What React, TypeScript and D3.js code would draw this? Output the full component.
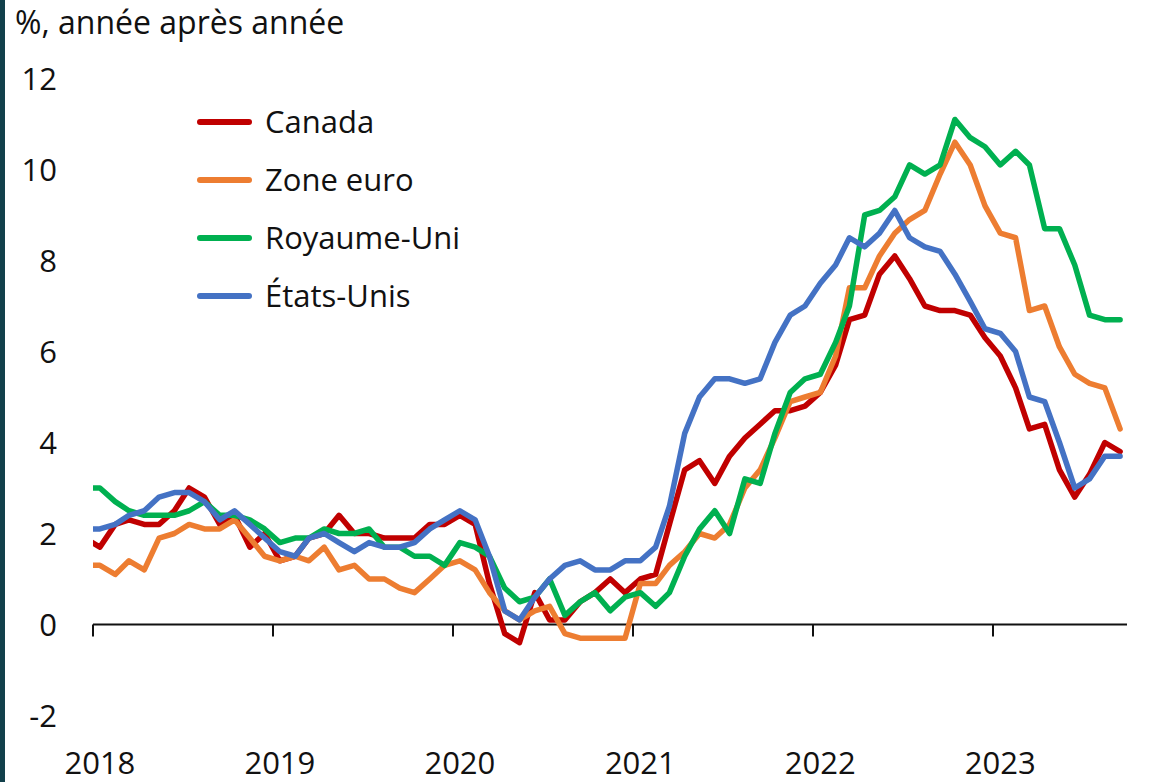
import React from "react";
import * as d3 from "d3";

// Monthly CPI, % year over year, Dec 2017 – Sep 2023
const START_YEAR = 2017;
const START_MONTH = 11; // December (0-based)

const canada = [1.9,
  1.7, 2.2, 2.3, 2.2, 2.2, 2.5, 3.0, 2.8, 2.2, 2.4, 1.7, 2.0,
  1.4, 1.5, 1.9, 2.0, 2.4, 2.0, 2.0, 1.9, 1.9, 1.9, 2.2, 2.2,
  2.4, 2.2, 0.9, -0.2, -0.4, 0.7, 0.1, 0.1, 0.5, 0.7, 1.0, 0.7,
  1.0, 1.1, 2.2, 3.4, 3.6, 3.1, 3.7, 4.1, 4.4, 4.7, 4.7, 4.8,
  5.1, 5.7, 6.7, 6.8, 7.7, 8.1, 7.6, 7.0, 6.9, 6.9, 6.8, 6.3,
  5.9, 5.2, 4.3, 4.4, 3.4, 2.8, 3.3, 4.0, 3.8];

const zoneEuro = [1.3,
  1.3, 1.1, 1.4, 1.2, 1.9, 2.0, 2.2, 2.1, 2.1, 2.3, 1.9, 1.5,
  1.4, 1.5, 1.4, 1.7, 1.2, 1.3, 1.0, 1.0, 0.8, 0.7, 1.0, 1.3,
  1.4, 1.2, 0.7, 0.3, 0.1, 0.3, 0.4, -0.2, -0.3, -0.3, -0.3, -0.3,
  0.9, 0.9, 1.3, 1.6, 2.0, 1.9, 2.2, 3.0, 3.4, 4.1, 4.9, 5.0,
  5.1, 5.9, 7.4, 7.4, 8.1, 8.6, 8.9, 9.1, 9.9, 10.6, 10.1, 9.2,
  8.6, 8.5, 6.9, 7.0, 6.1, 5.5, 5.3, 5.2, 4.3];

const royaumeUni = [3.0,
  3.0, 2.7, 2.5, 2.4, 2.4, 2.4, 2.5, 2.7, 2.4, 2.4, 2.3, 2.1,
  1.8, 1.9, 1.9, 2.1, 2.0, 2.0, 2.1, 1.7, 1.7, 1.5, 1.5, 1.3,
  1.8, 1.7, 1.5, 0.8, 0.5, 0.6, 1.0, 0.2, 0.5, 0.7, 0.3, 0.6,
  0.7, 0.4, 0.7, 1.5, 2.1, 2.5, 2.0, 3.2, 3.1, 4.2, 5.1, 5.4,
  5.5, 6.2, 7.0, 9.0, 9.1, 9.4, 10.1, 9.9, 10.1, 11.1, 10.7, 10.5,
  10.1, 10.4, 10.1, 8.7, 8.7, 7.9, 6.8, 6.7, 6.7];

const etatsUnis = [2.1,
  2.1, 2.2, 2.4, 2.5, 2.8, 2.9, 2.9, 2.7, 2.3, 2.5, 2.2, 1.9,
  1.6, 1.5, 1.9, 2.0, 1.8, 1.6, 1.8, 1.7, 1.7, 1.8, 2.1, 2.3,
  2.5, 2.3, 1.5, 0.3, 0.1, 0.6, 1.0, 1.3, 1.4, 1.2, 1.2, 1.4,
  1.4, 1.7, 2.6, 4.2, 5.0, 5.4, 5.4, 5.3, 5.4, 6.2, 6.8, 7.0,
  7.5, 7.9, 8.5, 8.3, 8.6, 9.1, 8.5, 8.3, 8.2, 7.7, 7.1, 6.5,
  6.4, 6.0, 5.0, 4.9, 4.0, 3.0, 3.2, 3.7, 3.7];

const seriesNames = ["Canada", "Zone euro", "Royaume-Uni", "États-Unis"];
const seriesColors = ["#C00000", "#ED7D31", "#00B050", "#4472C4"];
const seriesValues = [canada, zoneEuro, royaumeUni, etatsUnis];

const yearTicks = [2018, 2019, 2020, 2021, 2022, 2023];
const yTicks = [-2, 0, 2, 4, 6, 8, 10, 12];
const title = "%, année après année";

const W = 1168;
const H = 782;
const FONT = "'Segoe UI', 'Open Sans', 'Noto Sans', sans-serif";

export default function App() {
  const x = d3
    .scaleTime()
    .domain([new Date(2018, 0, 1), new Date(2023, 9, 1)])
    .range([93, 1128]);
  const y = d3.scaleLinear().domain([0, 12]).range([624.5, 78.5]);

  const dateAt = (i: number) => new Date(START_YEAR, START_MONTH + i, 15);

  const line = d3
    .line<number>()
    .x((_, i) => x(dateAt(i)))
    .y((v) => y(v));

  const [x0, x1] = x.range();

  return (
    <svg
      width={W}
      height={H}
      style={{ position: "absolute", left: 0, top: 0, background: "#fff" }}
      fontFamily={FONT}
    >
      <defs>
        <clipPath id="plotClip">
          <rect x={x0} y={0} width={x1 - x0 + 1} height={H} />
        </clipPath>
      </defs>
      <rect x={0} y={0} width={W} height={H} fill="#fff" />
      <rect x={0} y={0} width={5} height={H} fill="#12404B" />

      <text x={15} y={34} fontSize={32} fill="#111">
        {title}
      </text>

      {yTicks.map((t) => (
        <text
          key={t}
          x={57}
          y={y(t)}
          dy="0.36em"
          textAnchor="end"
          fontSize={31}
          fill="#111"
        >
          {t}
        </text>
      ))}

      {/* x axis at zero */}
      <line x1={x0} x2={x1 - 1} y1={y(0)} y2={y(0)} stroke="#111" strokeWidth={2} />
      {yearTicks.map((yr) => {
        const xt = Math.round(x(new Date(yr, 0, 1)));
        return (
          <g key={yr}>
            <line x1={xt} x2={xt} y1={y(0)} y2={y(0) + 12} stroke="#111" strokeWidth={2} />
            <text
              x={x(new Date(yr, 0, 15))}
              y={774}
              textAnchor="middle"
              fontSize={31}
              fill="#111"
            >
              {yr}
            </text>
          </g>
        );
      })}

      <g clipPath="url(#plotClip)">
        {seriesValues.map((vals, k) => (
          <path
            key={seriesNames[k]}
            d={line(vals) || ""}
            fill="none"
            stroke={seriesColors[k]}
            strokeWidth={5.5}
            strokeLinejoin="round"
            strokeLinecap="round"
          />
        ))}
      </g>

      {seriesNames.map((name, k) => {
        const cy = 122 + k * 58;
        return (
          <g key={name}>
            <line
              x1={200}
              x2={249}
              y1={cy}
              y2={cy}
              stroke={seriesColors[k]}
              strokeWidth={6}
              strokeLinecap="round"
            />
            <text x={265} y={cy + 11} fontSize={31} fill="#111">
              {name}
            </text>
          </g>
        );
      })}
    </svg>
  );
}
